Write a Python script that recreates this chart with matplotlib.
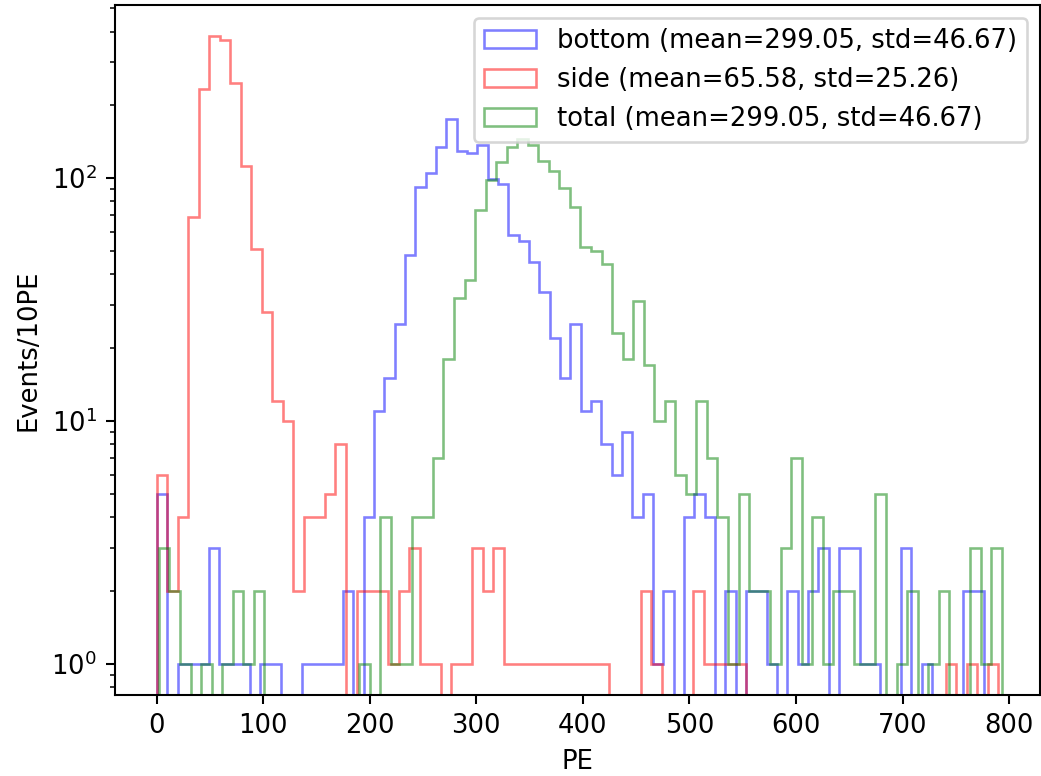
import numpy as np
import matplotlib
matplotlib.use("Agg")
import matplotlib.pyplot as plt

# counts per bin (80 bins each)
bottom_counts = [5, 0, 1, 1, 1, 3, 1, 1, 1, 0,
                 1, 1, 0, 0, 1, 1, 1, 1, 2, 0,
                 4, 11, 15, 25, 48, 92, 105, 134, 174, 129,
                 127, 137, 99, 94, 58, 55, 45, 34, 22, 15,
                 25, 11, 12, 8, 6, 9, 4, 5, 1, 2,
                 0, 4, 5, 4, 0, 2, 0, 2, 2, 1,
                 0, 2, 1, 2, 3, 0, 3, 3, 1, 1,
                 0, 0, 3, 0, 1, 0, 0, 0, 2, 2]
side_counts = [6, 2, 4, 69, 231, 382, 368, 246, 112, 51,
               28, 12, 10, 2, 4, 4, 5, 8, 0, 2,
               2, 2, 1, 2, 3, 1, 1, 0, 1, 1,
               3, 2, 3, 1, 1, 1, 1, 1, 1, 1,
               1, 1, 1, 0, 0, 0, 2, 1, 0, 0,
               0, 2, 1, 1, 1, 1, 0, 0, 0, 0,
               0, 0, 0, 0, 0, 0, 0, 0, 0, 0,
               0, 0, 0, 0, 0, 1, 0, 1, 0, 1]
total_counts = [3, 2, 1, 0, 1, 0, 1, 2, 1, 2,
                0, 0, 0, 0, 0, 0, 0, 0, 0, 1,
                0, 4, 1, 1, 4, 4, 7, 18, 32, 38,
                74, 98, 116, 134, 144, 136, 117, 107, 91, 76,
                52, 50, 44, 23, 18, 31, 17, 10, 12, 6,
                5, 12, 7, 4, 1, 5, 2, 2, 1, 3,
                7, 1, 4, 1, 2, 2, 1, 1, 5, 0,
                1, 2, 0, 1, 2, 0, 0, 3, 1, 3]

# bin ranges (each histogram spans its own min..max)
bottom_range = (0.5, 776.0)
side_range = (0.0, 790.0)
total_range = (2.2, 793.3)

labels = ["bottom (mean=299.05, std=46.67)",
          "side (mean=65.58, std=25.26)",
          "total (mean=299.05, std=46.67)"]
colors = ["blue", "red", "green"]

fig = plt.figure(figsize=(1041 / 186, 776 / 186), dpi=186)
ax = fig.add_subplot(111)
fig.subplots_adjust(left=115 / 1041, right=1040 / 1041, bottom=1 - 695 / 776, top=1 - 5 / 776)

for counts, rng, lab, col in zip([bottom_counts, side_counts, total_counts],
                                 [bottom_range, side_range, total_range], labels, colors):
    edges = np.linspace(rng[0], rng[1], len(counts) + 1)
    ax.hist(edges[:-1], bins=edges, weights=counts, histtype='step',
            color=col, alpha=0.5, label=lab, log=True)

ax.set_xlim(-39, 829)
ax.set_xlabel("PE")
ax.set_ylabel("Events/10PE")
ax.legend(loc='upper right')

plt.savefig("out.png", dpi=186)
